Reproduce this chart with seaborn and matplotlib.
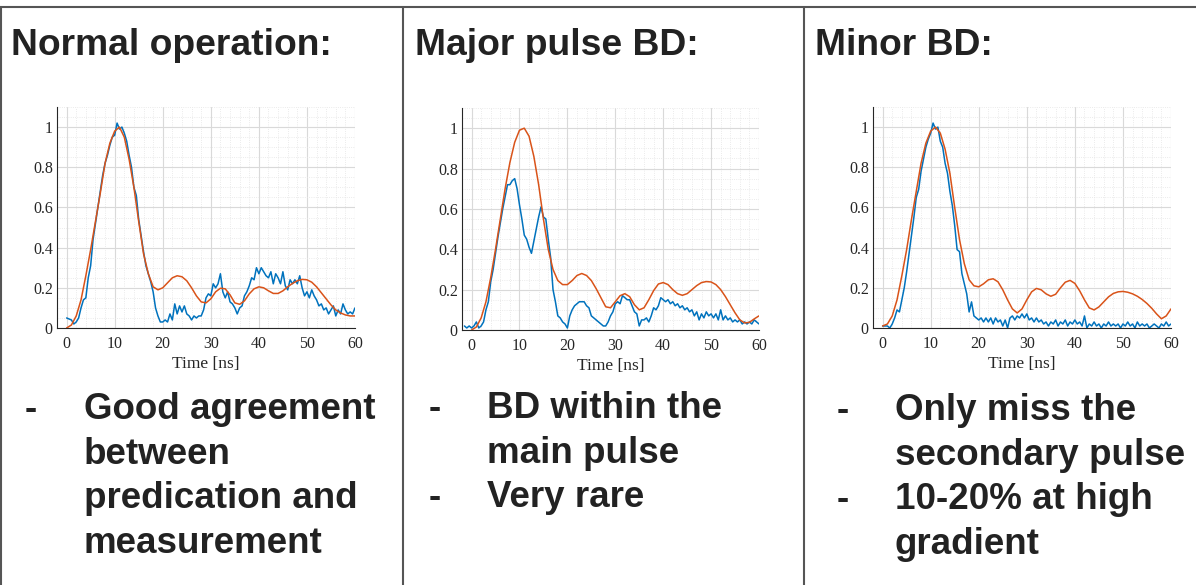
import numpy as np
import matplotlib.pyplot as plt
import seaborn as sns
from matplotlib.lines import Line2D
from matplotlib.ticker import MultipleLocator

# panel texts
titles = ['Normal operation:', 'Major pulse BD:', 'Minor BD:']
bullets = [
    [('-', ['Good agreement', 'between', 'predication and', 'measurement'])],
    [('-', ['BD within the', 'main pulse']), ('-', ['Very rare'])],
    [('-', ['Only miss the', 'secondary pulse']), ('-', ['10-20% at high', 'gradient'])],
]

# time grids [ns]
t_pred = np.arange(0, 61, 1.0)
t_meas = np.arange(0, 60.5, 0.5)
t_meas_bd = np.arange(-1.5, 60.5, 0.5)

# prediction (orange), 1 ns steps
pred_normal = [0.00, 0.015, 0.06, 0.14, 0.26, 0.39, 0.53, 0.67, 0.82, 0.92, 0.98,
               1.00, 0.95, 0.84, 0.70, 0.53, 0.37, 0.27, 0.205, 0.19, 0.20,
               0.225, 0.25, 0.26, 0.255, 0.235, 0.20, 0.16, 0.13, 0.125, 0.145,
               0.18, 0.198, 0.195, 0.165, 0.125, 0.118, 0.135, 0.17, 0.195, 0.205,
               0.20, 0.185, 0.172, 0.172, 0.185, 0.205, 0.222, 0.235, 0.242, 0.24,
               0.228, 0.205, 0.175, 0.145, 0.115, 0.09, 0.075, 0.065, 0.06, 0.06]
pred_major = [0.00, 0.015, 0.06, 0.14, 0.26, 0.40, 0.55, 0.70, 0.83, 0.93, 0.99,
              1.00, 0.96, 0.86, 0.72, 0.55, 0.40, 0.30, 0.245, 0.225, 0.225,
              0.245, 0.27, 0.28, 0.27, 0.245, 0.205, 0.16, 0.115, 0.11, 0.14,
              0.17, 0.18, 0.165, 0.125, 0.10, 0.11, 0.15, 0.195, 0.228, 0.235,
              0.225, 0.20, 0.18, 0.172, 0.18, 0.20, 0.22, 0.235, 0.24, 0.238,
              0.225, 0.20, 0.165, 0.125, 0.085, 0.05, 0.035, 0.038, 0.055, 0.07]
pred_minor = [0.01, 0.02, 0.06, 0.14, 0.26, 0.39, 0.54, 0.68, 0.82, 0.92, 0.98,
              1.00, 0.97, 0.89, 0.77, 0.60, 0.44, 0.32, 0.24, 0.21, 0.205,
              0.22, 0.24, 0.245, 0.23, 0.19, 0.14, 0.095, 0.075, 0.095, 0.14,
              0.18, 0.197, 0.19, 0.17, 0.158, 0.168, 0.20, 0.228, 0.237, 0.222,
              0.185, 0.14, 0.10, 0.09, 0.105, 0.13, 0.155, 0.172, 0.18, 0.182,
              0.178, 0.17, 0.158, 0.142, 0.122, 0.098, 0.07, 0.046, 0.06, 0.095]

# measurement (blue), 0.5 ns steps
meas_normal = [0.05, 0.045, 0.04, 0.02, 0.03, 0.05, 0.10, 0.14, 0.15, 0.25,
               0.31, 0.44, 0.52, 0.60, 0.68, 0.76, 0.82, 0.86, 0.91, 0.95,
               0.96, 1.02, 0.99, 1.00, 0.97, 0.93, 0.86, 0.80, 0.70, 0.66,
               0.54, 0.46, 0.38, 0.31, 0.27, 0.23, 0.18, 0.10, 0.06, 0.03,
               0.03, 0.04, 0.03, 0.07, 0.04, 0.12, 0.07, 0.11, 0.08, 0.11,
               0.07, 0.06, 0.04, 0.06, 0.05, 0.06, 0.06, 0.09, 0.15, 0.17,
               0.16, 0.22, 0.20, 0.22, 0.27, 0.18, 0.15, 0.18, 0.13, 0.12,
               0.10, 0.07, 0.10, 0.11, 0.16, 0.18, 0.21, 0.25, 0.24, 0.30,
               0.27, 0.30, 0.28, 0.26, 0.25, 0.28, 0.22, 0.27, 0.25, 0.22,
               0.28, 0.21, 0.19, 0.24, 0.22, 0.24, 0.22, 0.26, 0.20, 0.16,
               0.18, 0.15, 0.19, 0.16, 0.14, 0.11, 0.12, 0.09, 0.10, 0.07,
               0.09, 0.11, 0.06, 0.09, 0.07, 0.12, 0.09, 0.07, 0.08, 0.07,
               0.10]
meas_major = [0.02, 0.01, 0.02, 0.01, 0.02, 0.04, 0.01, 0.02, 0.04, 0.10,
              0.14, 0.24, 0.30, 0.38, 0.46, 0.53, 0.60, 0.66, 0.72, 0.72,
              0.74, 0.75, 0.70, 0.62, 0.55, 0.47, 0.45, 0.41, 0.38, 0.44,
              0.50, 0.56, 0.61, 0.56, 0.55, 0.45, 0.36, 0.20, 0.14, 0.07,
              0.06, 0.04, 0.03, 0.01, 0.07, 0.10, 0.12, 0.13, 0.14, 0.14,
              0.14, 0.12, 0.11, 0.07, 0.06, 0.05, 0.04, 0.03, 0.02, 0.02,
              0.04, 0.07, 0.09, 0.13, 0.14, 0.13, 0.17, 0.16, 0.15, 0.15,
              0.12, 0.09, 0.08, 0.02, 0.05, 0.05, 0.06, 0.04, 0.07, 0.11,
              0.10, 0.12, 0.16, 0.15, 0.14, 0.15, 0.13, 0.14, 0.12, 0.13,
              0.11, 0.12, 0.10, 0.11, 0.09, 0.10, 0.07, 0.09, 0.05, 0.08,
              0.06, 0.09, 0.07, 0.08, 0.06, 0.08, 0.05, 0.10, 0.05, 0.07,
              0.05, 0.06, 0.04, 0.05, 0.04, 0.05, 0.03, 0.04, 0.03, 0.04,
              0.03, 0.05, 0.04, 0.03]
meas_minor = [0.01, 0.01, 0.01, 0.00, 0.02, 0.05, 0.09, 0.08, 0.14, 0.20,
              0.28, 0.37, 0.46, 0.55, 0.65, 0.69, 0.78, 0.84, 0.90, 0.94,
              0.97, 1.02, 0.99, 1.00, 0.93, 0.90, 0.82, 0.77, 0.68, 0.61,
              0.51, 0.39, 0.38, 0.27, 0.22, 0.17, 0.08, 0.13, 0.06, 0.05,
              0.04, 0.05, 0.03, 0.05, 0.03, 0.05, 0.02, 0.05, 0.03, 0.04,
              0.01, 0.04, 0.00, 0.05, 0.06, 0.04, 0.06, 0.05, 0.07, 0.05,
              0.07, 0.04, 0.05, 0.03, 0.05, 0.03, 0.04, 0.02, 0.03, 0.01,
              0.03, 0.02, 0.04, 0.01, 0.03, 0.02, 0.04, 0.01, 0.03, 0.02,
              0.04, 0.02, 0.03, 0.01, 0.06, 0.00, 0.02, 0.01, 0.03, 0.01,
              0.02, 0.00, 0.02, 0.01, 0.03, 0.01, 0.02, 0.01, 0.02, 0.00,
              0.02, 0.01, 0.03, 0.01, 0.02, 0.00, 0.03, 0.01, 0.02, 0.01,
              0.02, 0.00, 0.01, 0.02, 0.01, 0.00, 0.02, 0.01, 0.03, 0.01,
              0.02]

panels = [
    (t_meas, meas_normal, pred_normal),
    (t_meas_bd, meas_major, pred_major),
    (t_meas, meas_minor, pred_minor),
]

sns.set_style('white')
plt.rcParams['font.family'] = ['Liberation Serif', 'DejaVu Serif']

blue = '#0072BD'
orange = '#D95319'
txt = '#222222'
sans = ['Liberation Sans', 'DejaVu Sans']

W, H = 1196, 585
fig = plt.figure(figsize=(W / 100, H / 100), dpi=100)

# axes boxes in pixels: left, top, right, bottom
boxes = [(57, 107, 355, 328), (462, 108, 759, 330), (873, 107, 1171, 328)]
title_x = [11, 415, 815]
dash_x = [25, 429, 837]
text_x = [84, 487, 895]
first_base = [419, 418, 420]
line_h = 44.7

for i, (tm, meas, pred) in enumerate(panels):
    l, t, r, b = boxes[i]
    ax = fig.add_axes([l / W, 1 - b / H, (r - l) / W, (b - t) / H])
    sns.lineplot(x=tm, y=meas, ax=ax, color=blue, lw=1.1)
    sns.lineplot(x=t_pred, y=pred, ax=ax, color=orange, lw=1.1)
    ax.set_xlim(-2, 60)
    ax.set_ylim(0, 1.1)
    ax.set_xticks([0, 10, 20, 30, 40, 50, 60])
    ax.set_yticks([0, 0.2, 0.4, 0.6, 0.8, 1])
    ax.set_yticklabels(['0', '0.2', '0.4', '0.6', '0.8', '1'])
    ax.xaxis.set_minor_locator(MultipleLocator(2))
    ax.yaxis.set_minor_locator(MultipleLocator(0.05))
    ax.grid(which='major', color='#d9d9d9', lw=0.8)
    ax.grid(which='minor', color='#e4e4e4', lw=0.6, ls=':')
    ax.set_axisbelow(True)
    for s in ['top', 'right']:
        ax.spines[s].set_visible(False)
    for s in ['left', 'bottom']:
        ax.spines[s].set_color('#262626')
        ax.spines[s].set_linewidth(0.8)
    ax.tick_params(which='major', direction='in', length=3, width=0.6,
                   colors='#262626', labelsize=11.5)
    ax.tick_params(which='minor', length=0)
    ax.tick_params(axis='x', pad=6)
    ax.tick_params(axis='y', pad=3)
    ax.set_xlabel('Time [ns]', fontsize=12.5, color='#262626', labelpad=3)
    ax.set_ylabel('')

    # title and bullets
    fig.text(title_x[i] / W, 1 - 55 / H, titles[i], fontsize=26.8,
             fontweight='bold', color=txt, family=sans, va='baseline')
    k = 0
    for dash, lines in bullets[i]:
        y0 = first_base[i] + k * line_h
        fig.text(dash_x[i] / W, 1 - y0 / H, dash, fontsize=26.5,
                 fontweight='bold', color=txt, family=sans, va='baseline')
        for ln in lines:
            y = first_base[i] + k * line_h
            fig.text(text_x[i] / W, 1 - y / H, ln, fontsize=26.5,
                     fontweight='bold', color=txt, family=sans, va='baseline')
            k += 1

# table borders
border = '#555555'
fig.add_artist(Line2D([0, 1], [1 - 7.3 / H] * 2, color=border, lw=1.5))
for xv in [1.2, 403, 803.5]:
    fig.add_artist(Line2D([xv / W] * 2, [0, 1 - 7.3 / H], color=border, lw=1.5))

fig.savefig('out.png', dpi=100)
